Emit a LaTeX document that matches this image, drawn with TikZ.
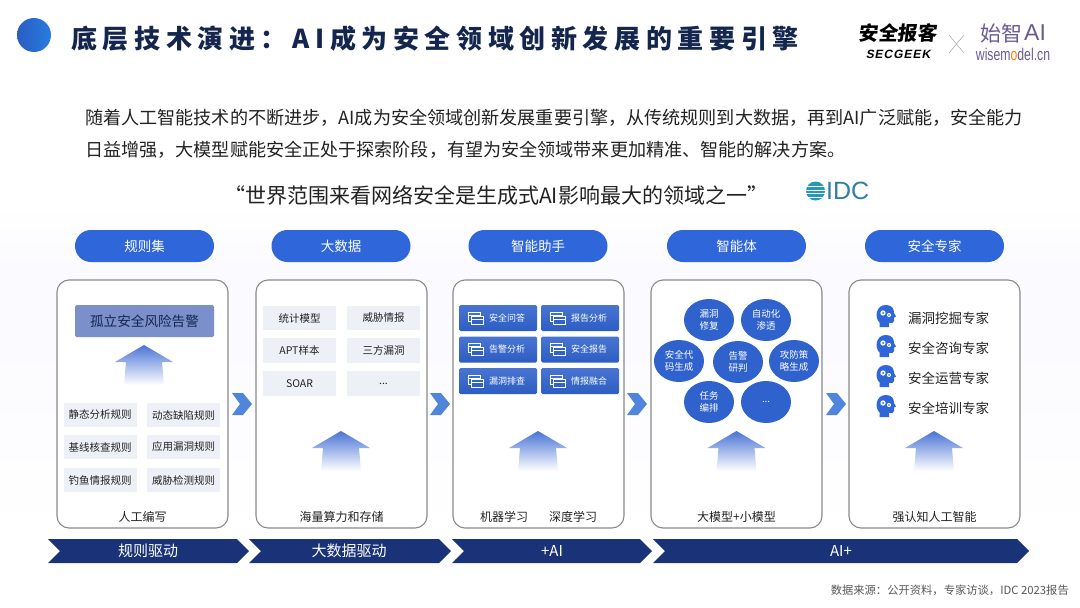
\documentclass[tikz,border=0pt]{standalone}
\usepackage{fontspec}
\usepackage{tikz}
\usetikzlibrary{shapes.geometric, positioning}
\setmainfont{Noto Sans CJK SC}
\newfontfamily\titlefont[LetterSpace=21.6]{Noto Sans CJK SC}
\newfontfamily\slantfont[FakeSlant=0.2,LetterSpace=8]{Liberation Sans}
\newfontfamily\logofont[FakeSlant=0.12]{Noto Sans CJK SC}
\newfontfamily\narrowfont[FakeStretch=0.72]{Liberation Sans}
\newfontfamily\idcfont{Liberation Sans}
\definecolor{TitleNavy}{HTML}{14264D}
\definecolor{PillBlue}{HTML}{2F66D9}
\definecolor{BandNavy}{HTML}{1A3378}
\definecolor{CellGray}{HTML}{EEF0F8}
\definecolor{CellBlue}{HTML}{2F62CC}
\definecolor{ArrowBlue}{HTML}{4A74D6}
\definecolor{BodyInk}{HTML}{222222}
\definecolor{PanelLine}{HTML}{8A8A8A}
\definecolor{IdcBlue}{HTML}{2F7EA8}
\definecolor{WisePurple}{HTML}{6A5A95}
\definecolor{ChevronBlue}{HTML}{4F86DB}
\definecolor{AlertBlue}{HTML}{7B8FCB}
\newcommand{\fsz}[1]{\fontsize{#1}{\dimexpr #1pt*12/10\relax}\selectfont}
\newcommand{\moredots}{...}
\tikzset{
  pillbox/.style={draw=none, fill=PillBlue, rounded corners=15.9pt, minimum width=139pt, minimum height=32pt, inner sep=0pt, text=white, font=\fsz{13.5}},
  panelbox/.style={draw=PanelLine, line width=1.1pt, fill=white, rounded corners=12pt, minimum width=171pt, minimum height=248pt, inner sep=0pt},
  cellbox/.style={fill=CellGray, minimum width=73pt, minimum height=24.5pt, inner sep=0pt, text=BodyInk, font=\fsz{10.5}},
  bluecell/.style={top color=CellBlue!88!white, bottom color=CellBlue!95!black, rounded corners=1.5pt, minimum width=78pt, minimum height=26pt, inner sep=0pt},
  bluetext/.style={text=white, font=\fsz{9}, inner sep=0pt, anchor=west},
  blob/.style={ellipse, fill=CellBlue, minimum width=50pt, minimum height=42pt, inner sep=0pt, text=white, font=\fsz{9.5}, align=center},
  basetext/.style={text=BodyInk, font=\fsz{12}, inner sep=0pt},
  expert/.style={text=BodyInk, font=\fsz{13.5}, inner sep=0pt, anchor=west},
  bandtext/.style={text=white, font=\fsz{15}, inner sep=0pt},
  bodyline/.style={text=BodyInk, font=\fsz{18.1}, inner sep=0pt, anchor=west},
}
% fading arrow, apex at (#1,#2)
\newcommand{\fadearrow}[2]{
  \shade[top color=ArrowBlue, middle color=ArrowBlue!30, bottom color=white] (#1,#2) -- (#1+29,#2+17) -- (#1+18,#2+17) -- (#1+20,#2+40) -- (#1-20,#2+40) -- (#1-18,#2+17) -- (#1-29,#2+17) -- cycle;
}
\newcommand{\winicon}[2]{
  \begin{scope}[shift={(#1,#2)}, draw=white, line width=0.7pt]
    \draw (0,0) rectangle (12,9);
    \draw (0,3) -- (12,3);
    \draw[fill=CellBlue] (3,4) rectangle (15,12);
    \draw (3,7) -- (15,7);
  \end{scope}
}
\newcommand{\headicon}[2]{
  \begin{scope}[shift={(#1,#2)}]
    \fill[PillBlue] (3.5,22) -- (3.5,17.5) .. controls (-1.5,13) and (-0.5,0) .. (10,0) .. controls (16,0) and (18,4) .. (18,8) -- (20,11.5) -- (18,12.5) -- (18,16) .. controls (18,18) and (16,18) .. (13,18) -- (13,22) -- cycle;
    \fill[white] (7,8) circle (2.7) (13,10) circle (2.1);
    \fill[PillBlue] (7,8) circle (1) (13,10) circle (0.8);
  \end{scope}
}

\begin{document}
\begin{tikzpicture}[x=1pt, y=-1pt]
    \useasboundingbox (0,0) rectangle (1080,608);
    \fill[white] (0,0) rectangle (1080,608);
    \shade[top color=white, bottom color=blue!2] (0,205) rectangle (1080,285);
    \shade[top color=blue!2, bottom color=white] (0,285) rectangle (1080,535);

    % header
    \shade[left color=PillBlue!90!black, right color=PillBlue!85!cyan] (34,35) circle (17);
    \node[anchor=west, inner sep=0pt, text=TitleNavy] (title) at (71,39)
      {\titlefont\bfseries\fsz{26}底层技术演进：AI成为安全领域创新发展的重要引擎};
    \node[anchor=center, inner sep=0pt, text=black] (secgeekcn) at (897.5,33)
      {\logofont\bfseries\fsz{19.5}安全报客};
    \node[anchor=center, inner sep=0pt, text=black] (secgeeken) at (898,54)
      {\slantfont\bfseries\fsz{12}SECGEEK};
    \draw[gray!70, line width=0.5pt] (949,35) -- (964,53) (964,35) -- (949,53);
    \node[anchor=west, inner sep=0pt, text=WisePurple] (shizhi) at (980,33)
      {\fsz{21}始智};
    \node[anchor=west, inner sep=0pt, text=WisePurple] (shizhiai) at (1024,33)
      {\idcfont\fsz{23}AI};
    \node[anchor=center, inner sep=0pt, text=WisePurple] (wisemodel) at (1013,54)
      {\narrowfont\fsz{17}wisem\textcolor{orange}{o}del.cn};

    % intro
    \node[bodyline] (introa) at (85,118) {随着人工智能技术的不断进步，AI成为安全领域创新发展重要引擎，从传统规则到大数据，再到AI广泛赋能，安全能力};
    \node[bodyline] (introb) at (85,150) {日益增强，大模型赋能安全正处于探索阶段，有望为安全领域带来更加精准、智能的解决方案。};
    \node[text=BodyInk, font=\fsz{21}, inner sep=0pt, anchor=west] (quote) at (224,195) {“世界范围来看网络安全是生成式AI影响最大的领域之一”};

    % IDC mark
    \fill[IdcBlue!80!cyan] (815.5,191) circle (9.5);
    \foreach \yy in {186.5,190,193.5,197}
      \draw[white, line width=0.9pt] (804,\yy) -- (827,\yy);
    \node[anchor=west, inner sep=0pt, text=IdcBlue] (idc) at (826,191) {\idcfont\fsz{25}IDC};

    % columns
    \foreach \cx/\px/\lab [count=\n] in {144.5/142.5/规则集, 341/341.5/大数据, 538/538.5/智能助手, 736.5/736.5/智能体, 934.5/934.5/安全专家} {
      \node[pillbox] (pill\n) at (\cx,246) {\lab};
      \node[panelbox] (panel\n) at (\px,404) {};
    }
    \foreach \x in {232,430,627,826}
      \fill[ChevronBlue] (\x,393) -- (\x+11,393) -- (\x+20,404) -- (\x+11,415) -- (\x,415) -- (\x+8,404) -- cycle;
    \fadearrow{144}{345}
    \fadearrow{341}{431}
    \fadearrow{538}{431}
    \fadearrow{736.5}{431}
    \fadearrow{934}{431}

    % rules
    \node[fill=AlertBlue, rounded corners=1.5pt, minimum width=139pt, minimum height=32pt, inner sep=0pt, text=TitleNavy, font=\fsz{13.6}] (isolated) at (144.5,321) {孤立安全风险告警};
    \foreach \x/\y/\lab [count=\n] in {100/415/静态分析规则, 183.5/415/动态缺陷规则, 100/447/基线核查规则, 183.5/447/应用漏洞规则, 100/480/钓鱼情报规则, 183.5/480/威胁检测规则}
      \node[cellbox] (rule\n) at (\x,\y) {\lab};
    \node[basetext] (base1) at (142.5,517) {人工编写};

    % big data
    \foreach \x/\y/\lab [count=\n] in {299.5/318/统计模型, 383.5/318/威胁情报, 299.5/350.5/APT样本, 383.5/350.5/三方漏洞, 299.5/383.5/SOAR, 383.5/383.5/\moredots}
      \node[cellbox] (data\n) at (\x,\y) {\lab};
    \node[basetext] (base2) at (341.5,517) {海量算力和存储};

    % assistant
    \foreach \x/\y/\lab [count=\n] in {498/318/安全问答, 580/318/报告分析, 498/349.5/告警分析, 580/349.5/安全报告, 498/381/漏洞排查, 580/381/情报融合} {
      \node[bluecell] (aid\n) at (\x,\y) {};
      \winicon{\x-30}{\y-6}
      \node[bluetext] (aidtext\n) at (\x-9,\y) {\lab};
    }
    \node[basetext] (base3a) at (504,517) {机器学习};
    \node[basetext] (base3b) at (573,517) {深度学习};

    % agents
    \foreach \x/\y/\lab [count=\n] in {709/320/漏洞\\修复, 766/320/自动化\\渗透, 679/361/安全代\\码生成, 738/362/告警\\研判, 794/361/攻防策\\略生成, 709/402/任务\\编排, 766/402/\moredots}
      \node[blob] (agent\n) at (\x,\y) {\lab};
    \node[basetext] (base4) at (736.5,517) {大模型+小模型};

    % experts
    \foreach \y/\lab [count=\n] in {318/漏洞挖掘专家, 348/安全咨询专家, 378/安全运营专家, 408/安全培训专家} {
      \headicon{876}{\y-13}
      \node[expert] (expert\n) at (908,\y) {\lab};
    }
    \node[basetext] (base5) at (934.5,517) {强认知人工智能};

    % stages
    \fill[BandNavy] (48,539) -- (237,539) -- (249,551) -- (237,563) -- (48,563) -- (60,551) -- cycle;
    \fill[BandNavy] (249,539) -- (439,539) -- (451,551) -- (439,563) -- (249,563) -- (261,551) -- cycle;
    \fill[BandNavy] (452,539) -- (640,539) -- (652,551) -- (640,563) -- (452,563) -- (464,551) -- cycle;
    \fill[BandNavy] (653,539) -- (1017,539) -- (1029,551) -- (1017,563) -- (653,563) -- (665,551) -- cycle;
    \node[bandtext] (stage1) at (148,551) {规则驱动};
    \node[bandtext] (stage2) at (349,551) {大数据驱动};
    \node[bandtext] (stage3) at (552,551) {+AI};
    \node[bandtext] (stage4) at (841,551) {AI+};

    \node[anchor=east, inner sep=0pt, text=black!65, font=\fsz{11.3}] (source) at (1069,590) {数据来源：公开资料，专家访谈，IDC 2023报告};
\end{tikzpicture}
\end{document}
